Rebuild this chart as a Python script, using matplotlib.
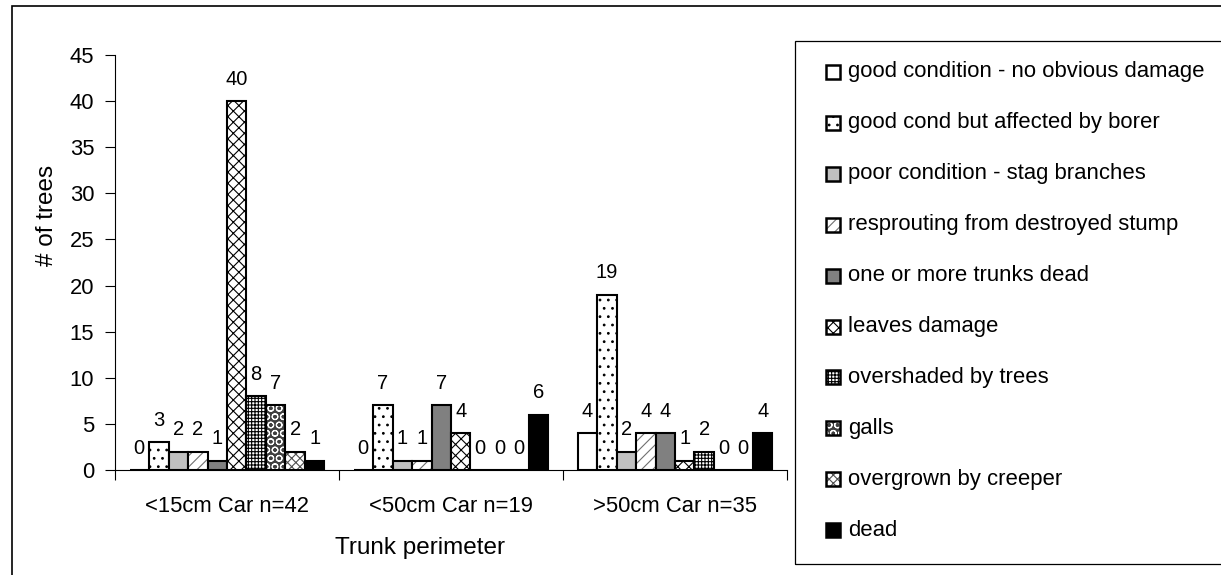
import matplotlib
matplotlib.use("Agg")
import matplotlib.pyplot as plt
from matplotlib.patches import Rectangle
import numpy as np

plt.rcParams['font.family'] = ['Liberation Sans', 'DejaVu Sans']
plt.rcParams['hatch.linewidth'] = 0.8

groups = ['<15cm Car n=42', '<50cm Car n=19', '>50cm Car n=35']
conditions = [
    'good condition - no obvious damage',
    'good cond but affected by borer',
    'poor condition - stag branches',
    'resprouting from destroyed stump',
    'one or more trunks dead',
    'leaves damage',
    'overshaded by trees',
    'galls',
    'overgrown by creeper',
    'dead',
]
good = [0, 0, 4]
borer = [3, 7, 19]
poor = [2, 1, 2]
resprout = [2, 1, 4]
trunks_dead = [1, 7, 4]
leaves = [40, 4, 1]
overshaded = [8, 0, 2]
galls = [7, 0, 0]
creeper = [2, 0, 0]
dead = [1, 6, 4]
series = [good, borer, poor, resprout, trunks_dead, leaves, overshaded, galls, creeper, dead]

# (facecolor, hatch, hatch colour)
styles = [
    ('white', '', 'black'),
    ('white', '..', 'black'),
    ('#c0c0c0', '', 'black'),
    ('white', '///', '#707070'),
    ('#808080', '', 'black'),
    ('white', 'xxx', 'black'),
    ('white', '+++++', 'black'),
    ('#404040', 'OO', 'white'),
    ('white', 'xxxx', '#505050'),
    ('black', '', 'black'),
]

W, H = 1221, 575
fig = plt.figure(figsize=(W / 100, H / 100), dpi=100)
ax = fig.add_axes([115 / W, 1 - 470 / H, (787 - 115) / W, (470 - 55) / H])

x = np.arange(len(groups))
n = len(series)
bw = 0.087
for i, (vals, (fc, hatch, hc)) in enumerate(zip(series, styles)):
    pos = x + (i - (n - 1) / 2) * bw
    ax.bar(pos, vals, bw, color=fc, hatch=hatch, edgecolor=hc, linewidth=0)
    bars = ax.bar(pos, vals, bw, fill=False, edgecolor='black', linewidth=1.5)
    for b, v in zip(bars, vals):
        ax.annotate(f'{v}', (b.get_x() + b.get_width() / 2, v), xytext=(0, 9),
                    textcoords='offset points', ha='center', va='bottom', fontsize=14.5)

ax.set_xlim(-0.5, 2.5)
ax.set_ylim(0, 45)
ax.set_yticks(range(0, 46, 5))
ax.set_xticks(x, groups)
ax.set_xticks([-0.5, 0.5, 1.5, 2.5], minor=True)
ax.tick_params(axis='x', which='major', length=0, pad=19, labelsize=15.8)
ax.tick_params(axis='x', which='minor', length=7, width=0.8, direction='out')
ax.tick_params(axis='y', length=7, width=0.8, direction='out', pad=8, labelsize=15.8)
for s in ['top', 'right']:
    ax.spines[s].set_visible(False)
for s in ['left', 'bottom']:
    ax.spines[s].set_linewidth(0.8)

fig.text(47 / W, 1 - 215 / H, '# of trees', rotation=90, ha='center', va='center', fontsize=17.5)
fig.text(420 / W, 1 - 548 / H, 'Trunk perimeter', ha='center', va='center', fontsize=17.5)

# outer border and legend frame
fig.add_artist(Rectangle((12 / W, -0.1), 1.2, 1.1 - 6 / H, transform=fig.transFigure,
                         fill=False, edgecolor='black', linewidth=1.2))
fig.add_artist(Rectangle((795 / W, 1 - 564 / H), 0.5, (564 - 41) / H, transform=fig.transFigure,
                         fill=False, edgecolor='black', linewidth=0.9))

# legend entries
for i, (label, (fc, hatch, hc)) in enumerate(zip(conditions, styles)):
    yc = 72 + i * 50.9
    box = (826 / W, 1 - (yc + 7) / H)
    fig.add_artist(Rectangle(box, 14 / W, 14 / H, transform=fig.transFigure,
                             facecolor=fc, hatch=hatch, edgecolor=hc, linewidth=0))
    fig.add_artist(Rectangle(box, 14 / W, 14 / H, transform=fig.transFigure,
                             fill=False, edgecolor='black', linewidth=1.8))
    fig.text(848 / W, 1 - yc / H, label, ha='left', va='center', fontsize=15.9)

fig.savefig('out.png', dpi=100)
